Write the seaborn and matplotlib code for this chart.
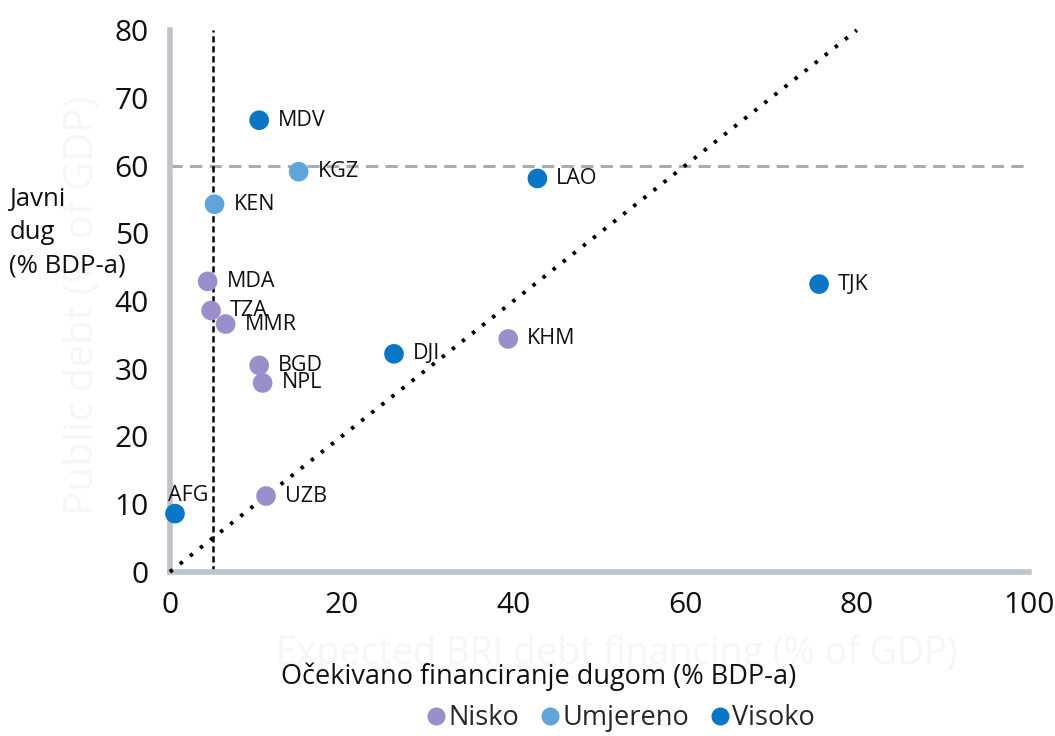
import matplotlib
matplotlib.use("Agg")
import matplotlib.pyplot as plt
import seaborn as sns
import pandas as pd
from matplotlib.lines import Line2D

# data
countries = ["MDV", "KGZ", "LAO", "KEN", "MDA", "TZA", "MMR", "BGD", "NPL",
             "DJI", "KHM", "TJK", "UZB", "AFG"]
financing = [10.4, 15.0, 42.8, 5.2, 4.4, 4.8, 6.5, 10.4, 10.8,
             26.1, 39.4, 75.6, 11.2, 0.6]
public_debt = [66.7, 59.1, 58.1, 54.3, 42.9, 38.6, 36.6, 30.5, 27.9,
               32.2, 34.4, 42.5, 11.2, 8.6]
risk = ["Visoko", "Umjereno", "Visoko", "Umjereno", "Nisko", "Nisko", "Nisko",
        "Nisko", "Nisko", "Visoko", "Nisko", "Visoko", "Nisko", "Visoko"]
risk_levels = ["Nisko", "Umjereno", "Visoko"]
risk_colors = ["#9b8fcb", "#5fa4db", "#0a76c6"]
x_ticks = [0, 20, 40, 60, 80, 100]
y_ticks = [0, 10, 20, 30, 40, 50, 60, 70, 80]
debt_threshold = 60
financing_threshold = 5

df = pd.DataFrame({"country": countries, "financing": financing,
                   "debt": public_debt, "risk": risk})

sns.set_style("white")
plt.rcParams["font.family"] = ["Open Sans", "DejaVu Sans"]

fig, ax = plt.subplots(figsize=(10.55, 7.36), dpi=100)
fig.subplots_adjust(left=0.161, right=0.975, top=0.959, bottom=0.223)

palette = dict(zip(risk_levels, risk_colors))

# faint ghost text of the original English labels (drawn first, behind everything)
fig.text(0.078, 0.585, "Public debt (% of GDP)", rotation=90, fontsize=29,
         color="#f6f6f6", ha="center", va="center")
fig.text(0.585, 0.112, "Expected BRI debt financing (% of GDP)", fontsize=27,
         color="#f6f6f6", ha="center", va="center")

# reference lines
ax.axhline(debt_threshold, color="#a7adb5", lw=2.2, ls=(0, (4, 2.4)), zorder=1)
ax.axvline(financing_threshold, color="black", lw=1.8, ls=(0, (2.5, 1.5)), zorder=1)
ax.plot([0, 80], [0, 80], color="black", lw=2.8, ls=(0, (0.9, 2.4)), zorder=3,
        clip_on=False)

sns.scatterplot(data=df, x="financing", y="debt", hue="risk", palette=palette,
                hue_order=risk_levels, s=200, edgecolor="none", legend=False,
                ax=ax, zorder=4, clip_on=False)

label_offsets = {"AFG": (-0.8, 2.7)}
for c, x, y in zip(countries, financing, public_debt):
    dx, dy = label_offsets.get(c, (2.2, 0))
    ax.text(x + dx, y + dy, c, fontsize=15.5, va="center", ha="left",
            color="#111111", zorder=5)

ax.set_xlim(0, 100)
ax.set_ylim(0, 80)
ax.set_xticks(x_ticks)
ax.set_yticks(y_ticks)
ax.tick_params(axis="both", length=0, labelsize=21.5, colors="#111111")
ax.tick_params(axis="x", pad=14)
ax.tick_params(axis="y", pad=15)

for side in ["top", "right"]:
    ax.spines[side].set_visible(False)
for side in ["left", "bottom"]:
    ax.spines[side].set_color("#bfc4ca")
    ax.spines[side].set_linewidth(4)

ax.set_xlabel("")
ax.set_ylabel("")

fig.text(0.009, 0.684, "Javni\ndug\n(% BDP-a)", fontsize=18.5, color="#111111",
         ha="left", va="center", linespacing=1.42)
fig.text(0.511, 0.081, "Očekivano financiranje dugom (% BDP-a)", fontsize=19.5,
         color="#111111", ha="center", va="center")

handles = [Line2D([0], [0], marker="o", ls="", markersize=13,
                  markerfacecolor=col, markeredgecolor="none", label=lvl)
           for lvl, col in zip(risk_levels, risk_colors)]
fig.legend(handles=handles, loc="center", bbox_to_anchor=(0.587, 0.024), ncol=3,
           frameon=False, fontsize=19.5, handletextpad=0.0, columnspacing=0.7,
           handlelength=0.9, borderpad=0)

fig.savefig("out.png", dpi=100)
